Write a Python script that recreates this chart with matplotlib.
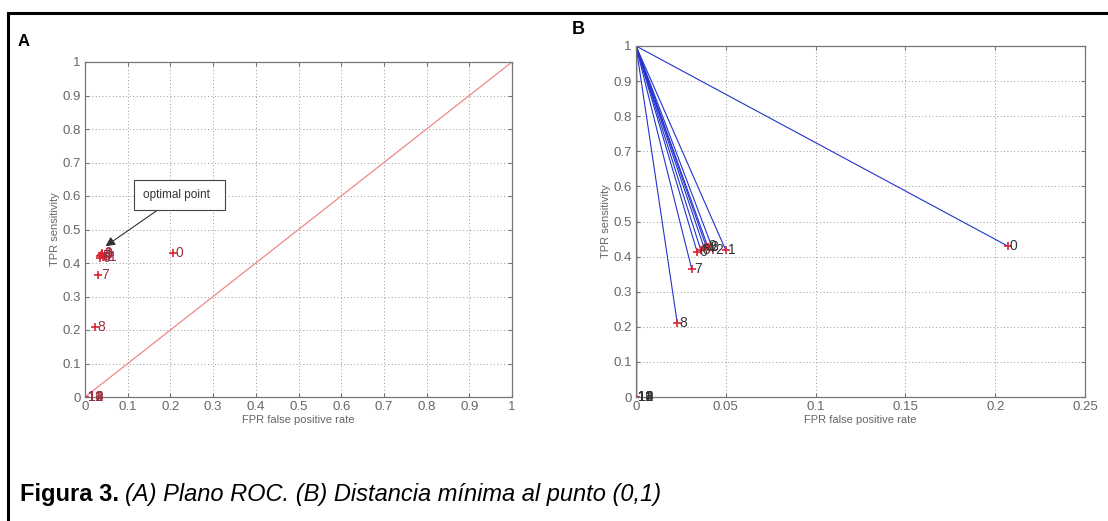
import matplotlib.pyplot as plt
from matplotlib.lines import Line2D

# ROC points, one per threshold
point_labels = ['0', '1', '2', '3', '4', '5', '6', '7', '8', '9', '10', '11', '12', '13', '14']
fpr = [0.207, 0.050, 0.043, 0.040, 0.038, 0.036, 0.034, 0.031, 0.023, 0.039, 0.0, 0.0, 0.0, 0.0, 0.0]
tpr = [0.430, 0.418, 0.418, 0.428, 0.424, 0.420, 0.414, 0.365, 0.210, 0.430, 0.0, 0.0, 0.0, 0.0, 0.0]

ticks_a = [0, 0.1, 0.2, 0.3, 0.4, 0.5, 0.6, 0.7, 0.8, 0.9, 1]
tick_labels_a = ['0', '0.1', '0.2', '0.3', '0.4', '0.5', '0.6', '0.7', '0.8', '0.9', '1']
xticks_b = [0, 0.05, 0.1, 0.15, 0.2, 0.25]
xtick_labels_b = ['0', '0.05', '0.1', '0.15', '0.2', '0.25']

optimal = (0.048, 0.45)

small_font = ['Liberation Sans Narrow', 'Liberation Sans', 'DejaVu Sans']
plt.rcParams['font.family'] = small_font

fig = plt.figure(figsize=(11.08, 5.21), dpi=100)
W, H = 1108, 521

def style_axes(ax):
    ax.grid(True, linestyle=(0, (1, 2.5)), color='#999999', linewidth=0.7)
    for s in ax.spines.values():
        s.set_color('#777777')
        s.set_linewidth(0.9)
    ax.tick_params(direction='in', top=True, right=True, length=3, colors='#777777',
                   labelcolor='#666666', labelsize=9.5, pad=3)
    ax.set_xlabel('FPR false positive rate', fontsize=8, color='#666666', labelpad=1)
    ax.set_ylabel('TPR sensitivity', fontsize=8, color='#666666', labelpad=2)

# panel A: ROC plane
axA = fig.add_axes([85 / W, 1 - 397 / H, (512 - 85) / W, (397 - 62) / H])
axA.plot([0, 1], [0, 1], color='#ee8888', linewidth=0.9)
axA.plot(fpr, tpr, '+', color='#dd2233', markersize=6, markeredgewidth=1.2)
for lab, x, y in zip(point_labels, fpr, tpr):
    axA.text(x + 0.006, y, lab, fontsize=10, color='#993344', va='center', ha='left')
axA.set_xlim(0, 1)
axA.set_ylim(0, 1)
axA.set_xticks(ticks_a, tick_labels_a)
axA.set_yticks(ticks_a, tick_labels_a)
style_axes(axA)
axA.annotate('optimal point  ', xy=optimal, xytext=(0.135, 0.603), fontsize=8.5,
             color='#333333', va='center', ha='left',
             bbox=dict(boxstyle='square,pad=0.75', fc='white', ec='#444444', lw=0.8),
             arrowprops=dict(arrowstyle='-|>', color='#333333', lw=0.8,
                             shrinkA=0, shrinkB=0, mutation_scale=14))

# panel B: distance to (0,1)
axB = fig.add_axes([636 / W, 1 - 397 / H, (1085 - 636) / W, (397 - 46) / H])
for x, y in zip(fpr, tpr):
    axB.plot([0, x], [1, y], color='#2233cc', linewidth=0.8)
axB.plot(fpr, tpr, '+', color='#dd2233', markersize=6, markeredgewidth=1.2)
for lab, x, y in zip(point_labels, fpr, tpr):
    axB.text(x + 0.0012, y, lab, fontsize=10, color='#333333', va='center', ha='left')
axB.set_xlim(0, 0.25)
axB.set_ylim(0, 1)
axB.set_xticks(xticks_b, xtick_labels_b)
axB.set_yticks(ticks_a, tick_labels_a)
style_axes(axB)

# panel letters
fig.text(18 / W, 1 - 42 / H, 'A', fontsize=12, fontweight='bold', family='Liberation Sans',
         va='center', ha='left')
fig.text(572 / W, 1 - 30 / H, 'B', fontsize=13, fontweight='bold', family='Liberation Sans',
         va='center', ha='left')

# frame lines of the figure box
fig.add_artist(Line2D([8 / W, 1], [1 - 13 / H, 1 - 13 / H], color='black', linewidth=2.2))
fig.add_artist(Line2D([8 / W, 8 / W], [0, 1 - 13 / H], color='black', linewidth=2.2))

# caption
cap_y = 1 - 494 / H
t1 = fig.text(20 / W, cap_y, 'Figura 3.', fontsize=17, fontweight='bold',
              family='Liberation Sans', va='center', ha='left')
fig.canvas.draw()
bb = t1.get_window_extent()
fig.text(bb.x1 / W + 6 / W, cap_y, '(A) Plano ROC. (B) Distancia mínima al punto (0,1)',
         fontsize=17, style='italic', family='Liberation Sans', va='center', ha='left')

fig.savefig('out.png', dpi=100)
